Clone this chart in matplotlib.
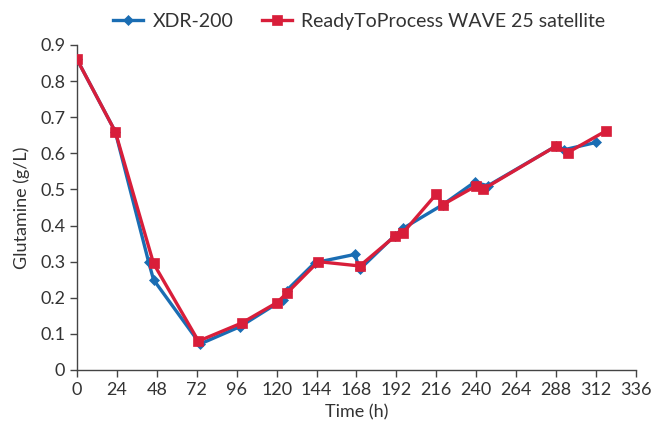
import matplotlib
matplotlib.use("Agg")
import matplotlib.pyplot as plt

plt.rcParams['font.family'] = ['Lato', 'DejaVu Sans']

xdr_t = [0, 23, 43, 46, 74, 98, 124, 126, 143, 167, 170, 191, 196, 220, 239, 247, 288, 293, 312]
xdr_y = [0.86, 0.66, 0.30, 0.25, 0.072, 0.12, 0.195, 0.22, 0.297, 0.32, 0.279, 0.372, 0.392, 0.458, 0.52, 0.51, 0.62, 0.61, 0.63]
wave_t = [0, 23, 46, 73, 99, 120, 126, 145, 170, 191, 196, 216, 220, 240, 244, 288, 295, 318]
wave_y = [0.86, 0.66, 0.295, 0.08, 0.13, 0.186, 0.212, 0.30, 0.288, 0.37, 0.38, 0.487, 0.458, 0.51, 0.50, 0.62, 0.602, 0.662]

x_ticks = list(range(0, 337, 24))
y_ticks = [0, 0.1, 0.2, 0.3, 0.4, 0.5, 0.6, 0.7, 0.8, 0.9]
y_labels = ['0', '0.1', '0.2', '0.3', '0.4', '0.5', '0.6', '0.7', '0.8', '0.9']

blue = '#1a6db3'
red = '#d81e3a'
txt = '#333333'
fs = 13

fig = plt.figure(figsize=(6.56, 4.24), dpi=100)
ax = fig.add_axes([0.1174, 0.1274, 0.852, 0.7666])

ax.plot(xdr_t, xdr_y, color=blue, lw=2.4, marker='D', ms=5.5, mew=0.5, label='XDR-200', zorder=3)
ax.plot(wave_t, wave_y, color=red, lw=2.4, marker='s', ms=6.5, mew=0.5, label='ReadyToProcess WAVE 25 satellite', zorder=4)

ax.set_xlim(0, 336)
ax.set_ylim(0, 0.9)
ax.set_xticks(x_ticks)
ax.set_yticks(y_ticks)
ax.set_yticklabels(y_labels)
for s in ['top', 'right']:
    ax.spines[s].set_visible(False)
for s in ['left', 'bottom']:
    ax.spines[s].set_color('#444444')
    ax.spines[s].set_linewidth(1.0)
ax.tick_params(axis='both', colors='#444444', labelcolor=txt, labelsize=fs, length=5, width=1.0, direction='out')
ax.set_xlabel('Time (h)', fontsize=fs, color=txt, labelpad=5)
ax.set_ylabel('Glutamine (g/L)', fontsize=fs, color=txt, labelpad=7)

leg = fig.legend(loc='upper left', bbox_to_anchor=(0.145, 1.01), ncol=2, frameon=False,
                 fontsize=14, handlelength=1.55, columnspacing=1.45, handletextpad=0.5)
for t in leg.get_texts():
    t.set_color(txt)

fig.savefig('out.png', dpi=100)
